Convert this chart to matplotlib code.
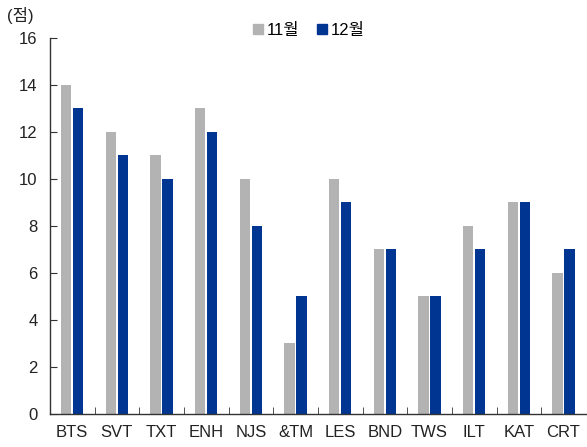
import numpy as np
import matplotlib
matplotlib.use("Agg")
import matplotlib.pyplot as plt
from matplotlib.lines import Line2D

plt.rcParams['font.family'] = ['Liberation Sans', 'Noto Sans CJK KR', 'DejaVu Sans']

groups = ['BTS', 'SVT', 'TXT', 'ENH', 'NJS', '&TM', 'LES', 'BND', 'TWS', 'ILT', 'KAT', 'CRT']
nov = [14, 12, 11, 13, 10, 3, 10, 7, 5, 8, 9, 6]
dec = [13, 11, 10, 12, 8, 5, 9, 7, 5, 7, 9, 7]
y_ticks = [0, 2, 4, 6, 8, 10, 12, 14, 16]

gray = '#b3b3b3'
navy = '#003591'

fig = plt.figure(figsize=(5.87, 4.47), dpi=100)
ax = fig.add_axes([0.085, 0.074, 0.913, 0.841])

x = np.arange(len(groups))
ax.bar(x - 0.135, nov, width=0.23, color=gray, label='11월')
ax.bar(x + 0.135, dec, width=0.23, color=navy, label='12월')

ax.set_xlim(-0.5, len(groups) - 0.5)
ax.set_ylim(0, 16)
ax.set_yticks(y_ticks)
ax.set_xticks(x)
ax.set_xticklabels(groups)
ax.set_xticks(x[:-1] + 0.5, minor=True)
ax.tick_params(axis='x', which='major', length=0, pad=8, labelsize=12, colors='#222222')
ax.tick_params(axis='x', which='minor', direction='in', length=5, color='#333333')
ax.tick_params(axis='y', direction='in', length=5, pad=9, labelsize=12, colors='#222222')
ax.tick_params(axis='y', color='#333333')

for s in ['top', 'right']:
    ax.spines[s].set_visible(False)
for s in ['left', 'bottom']:
    ax.spines[s].set_color('#333333')
    ax.spines[s].set_linewidth(1.0)

handles = [Line2D([], [], marker='s', linestyle='', markersize=7, color=gray),
           Line2D([], [], marker='s', linestyle='', markersize=7, color=navy)]
fig.legend(handles, ['11월', '12월'], loc='center', bbox_to_anchor=(0.525, 0.932),
           ncol=2, frameon=False, fontsize=12, handletextpad=0.1,
           columnspacing=1.0, handlelength=0.8)

fig.text(0.012, 0.965, '(점)', fontsize=12, color='#222222', va='center')

fig.savefig('out.png', dpi=100)
